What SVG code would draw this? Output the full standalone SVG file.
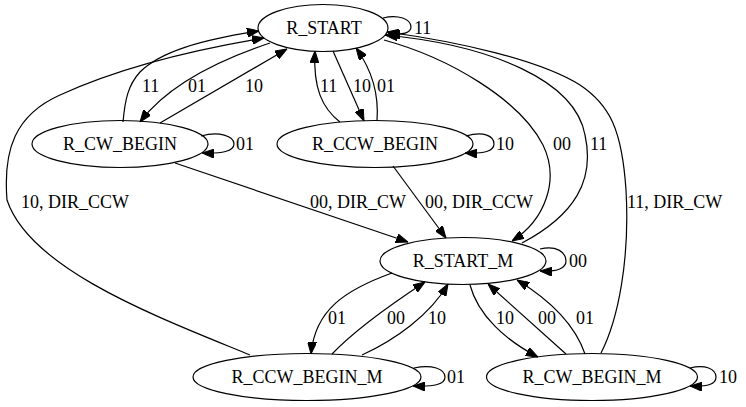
<svg xmlns="http://www.w3.org/2000/svg" width="746" height="407" viewBox="0 0 746 407">
<defs>
<style>
.n ellipse{fill:none;stroke:#000;stroke-width:1.2}
.n text{font-family:"Liberation Serif","Times New Roman",serif;font-size:18px;text-anchor:middle;fill:#000}
#edges path{fill:none;stroke:#000;stroke-width:1.2;marker-end:url(#ah)}
#edges text{font-family:"Liberation Serif","Times New Roman",serif;font-size:18px;fill:#000}
</style>
<marker id="ah" viewBox="0 0 12 9" refX="12" refY="4.5" markerWidth="12" markerHeight="9" markerUnits="userSpaceOnUse" orient="auto">
<path d="M0,0 L12,4.5 L0,9 Z" fill="#000" stroke="#000" stroke-width="1"/>
</marker>
</defs>
<rect width="746" height="407" fill="#fff"/>

<g id="edges">
<!-- R_START self loop 11 -->
<path d="M383,18 C398,14 411,19 411,27 C411,33 403,35 388,34"/>
<text x="414" y="34">11</text>
<!-- R_CW_BEGIN -> R_START 11 -->
<path d="M123,122 C125,100 128,85 140,72 C160,52 200,40 259,31"/>
<text x="142" y="92">11</text>
<!-- R_START -> R_CW_BEGIN 01 -->
<path d="M270,43 C225,58 170,82 140,122"/>
<text x="188" y="92">01</text>
<!-- R_CW_BEGIN -> R_START 10 -->
<path d="M160,123 L287,49"/>
<text x="245" y="92">10</text>
<!-- R_CCW_BEGIN_M -> R_START 10, DIR_CCW -->
<path d="M250,355 C160,318 30,270 7,200 C3,150 15,115 60,95 C110,72 180,52 264,38"/>
<text x="21" y="208">10, DIR_CCW</text>
<!-- R_CCW_BEGIN -> R_START 11 -->
<path d="M340,122 C322,108 313,88 315,51"/>
<text x="320" y="92">11</text>
<!-- R_START -> R_CCW_BEGIN 10 -->
<path d="M333,51 L364,121"/>
<text x="353" y="92">10</text>
<!-- R_CCW_BEGIN -> R_START 01 -->
<path d="M377,121 C379,95 372,70 356,48"/>
<text x="377" y="92">01</text>
<!-- R_CW_BEGIN loop 01 -->
<path d="M201,136 C219,131 234,136 234,144 C234,151 222,154 202,153"/>
<text x="236" y="150">01</text>
<!-- R_CCW_BEGIN loop 10 -->
<path d="M466,136 C484,131 494,136 494,144 C494,151 484,154 465,153"/>
<text x="496" y="150">10</text>
<!-- R_CW_BEGIN -> R_START_M 00, DIR_CW -->
<path d="M175,163 L408,242"/>
<text x="310" y="208">00, DIR_CW</text>
<!-- R_CCW_BEGIN -> R_START_M 00, DIR_CCW -->
<path d="M393,166 L446,238"/>
<text x="425" y="208">00, DIR_CCW</text>
<!-- R_START -> R_START_M 00 -->
<path d="M384,40 C450,58 520,100 543,145 C560,180 545,220 512,241"/>
<text x="553" y="150">00</text>
<!-- R_START_M -> R_START 11 -->
<path d="M522,243 C575,215 595,180 585,135 C575,80 490,45 385,35"/>
<text x="590" y="150">11</text>
<!-- R_CW_BEGIN_M -> R_START 11, DIR_CW -->
<path d="M601,353 C618,320 630,260 626,190 C622,130 610,105 580,85 C540,60 460,42 387,32"/>
<text x="627" y="208">11, DIR_CW</text>
<!-- R_START_M loop 00 -->
<path d="M540,249 C556,245 566,252 566,261 C566,268 558,272 540,271"/>
<text x="569" y="267">00</text>
<!-- R_START_M -> R_CCW_BEGIN_M 01 -->
<path d="M392,273 C345,290 315,310 311,354"/>
<text x="328" y="324">01</text>
<!-- R_CCW_BEGIN_M -> R_START_M 00 -->
<path d="M332,354 C355,330 390,305 425,282"/>
<text x="387" y="324">00</text>
<!-- R_CCW_BEGIN_M -> R_START_M 10 -->
<path d="M362,355 C395,340 430,315 448,284"/>
<text x="428" y="324">10</text>
<!-- R_CCW_BEGIN_M loop 01 -->
<path d="M414,368 C432,364 445,369 445,377 C445,384 435,387 413,386"/>
<text x="447" y="383">01</text>
<!-- R_START_M -> R_CW_BEGIN_M 10 -->
<path d="M470,285 C478,315 505,340 538,357"/>
<text x="496" y="324">10</text>
<!-- R_CW_BEGIN_M -> R_START_M 00 -->
<path d="M566,354 L488,284"/>
<text x="538" y="324">00</text>
<!-- R_CW_BEGIN_M -> R_START_M 01 -->
<path d="M585,354 C575,325 550,300 517,280"/>
<text x="576" y="324">01</text>
<!-- R_CW_BEGIN_M loop 10 -->
<path d="M690,368 C705,364 716,369 716,377 C716,384 708,387 690,386"/>
<text x="719" y="383">10</text>
</g>

<g id="R_START" class="n"><ellipse cx="323" cy="28" rx="65" ry="23.5"/><text x="324" y="34">R_START</text></g>
<g id="R_CW_BEGIN" class="n"><ellipse cx="120" cy="144" rx="88" ry="23.5"/><text x="120" y="150">R_CW_BEGIN</text></g>
<g id="R_CCW_BEGIN" class="n"><ellipse cx="375" cy="144" rx="98" ry="23.5"/><text x="375" y="150">R_CCW_BEGIN</text></g>
<g id="R_START_M" class="n"><ellipse cx="463" cy="261" rx="83" ry="23.5"/><text x="463" y="267">R_START_M</text></g>
<g id="R_CCW_BEGIN_M" class="n"><ellipse cx="307" cy="377" rx="114" ry="23.5"/><text x="307" y="383">R_CCW_BEGIN_M</text></g>
<g id="R_CW_BEGIN_M" class="n"><ellipse cx="592" cy="377" rx="105.5" ry="23.5"/><text x="592" y="383">R_CW_BEGIN_M</text></g>
</svg>
